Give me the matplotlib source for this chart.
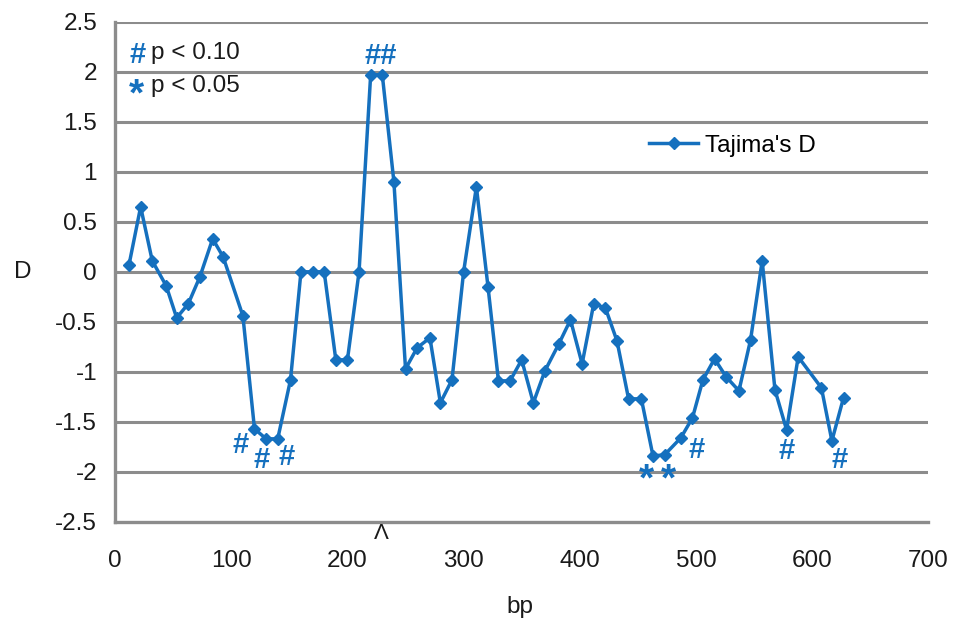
import numpy as np
import matplotlib
matplotlib.use('Agg')
from matplotlib import pyplot as plt

plt.rcParams['font.family'] = ['Liberation Sans', 'DejaVu Sans']

# sliding window centres (bp) and Tajima's D per window
bp = [12, 22, 32, 44, 53, 63, 73, 84, 93, 110, 120, 130, 140, 151, 160, 170, 180,
      190, 200, 210, 220, 230, 240, 250, 260, 271, 280, 290, 300, 311, 321, 330,
      340, 350, 360, 370, 382, 392, 402, 412, 422, 432, 442, 453, 463, 473, 487,
      497, 506, 516, 526, 537, 547, 557, 568, 578, 588, 608, 617, 627]
tajima_d = [0.07, 0.65, 0.11, -0.14, -0.46, -0.32, -0.05, 0.33, 0.15, -0.44,
            -1.57, -1.67, -1.67, -1.08, 0.0, 0.0, 0.0, -0.88, -0.88, 0.0,
            1.97, 1.97, 0.90, -0.97, -0.76, -0.66, -1.31, -1.08, 0.0, 0.85,
            -0.15, -1.09, -1.09, -0.88, -1.31, -0.99, -0.72, -0.48, -0.92, -0.32,
            -0.36, -0.69, -1.27, -1.27, -1.84, -1.83, -1.66, -1.46, -1.08, -0.87,
            -1.05, -1.19, -0.68, 0.11, -1.18, -1.58, -0.85, -1.16, -1.69, -1.26]

# significance marks: (symbol, bp, D at the centre of the symbol)
sig_marks = [('#', 108, -1.71), ('#', 126, -1.86), ('#', 148, -1.83),
             ('##', 229, 2.18),
             ('*', 457, -2.0), ('*', 476, -2.0),
             ('#', 501, -1.76), ('#', 578, -1.77), ('#', 624, -1.86)]

blue = '#1570BE'
grid_gray = '#8c8c8c'
text_col = '#1a1a1a'
fs = 17.5
hash_fs = 21
star_fs = 28


def sig_text(ax, sym, x, y):
    # place glyph by its visual centre: '#' sits on the baseline, '*' floats near cap height
    size = star_fs if sym == '*' else hash_fs
    lift = 0.47 if sym == '*' else 0.36
    ax.annotate(sym, xy=(x, y), xytext=(0, -lift * size), textcoords='offset points',
                color=blue, fontsize=size, fontweight='bold', ha='center', va='baseline',
                zorder=4)


fig = plt.figure(figsize=(9.59, 6.22), dpi=100)
ax = fig.add_axes([0.12, 0.161, 0.848, 0.804])

ax.plot(bp, tajima_d, color=blue, lw=2.5, marker='D', ms=6.5, mec=blue, mfc=blue,
        label="Tajima's D", zorder=3)

ax.set_xlim(0, 700)
ax.set_ylim(-2.5, 2.5)
ax.set_xticks(np.arange(0, 701, 100))
ax.set_yticks(np.arange(-2.5, 2.51, 0.5))
ax.set_yticklabels(['-2.5', '-2', '-1.5', '-1', '-0.5', '0', '0.5', '1', '1.5', '2', '2.5'])
ax.tick_params(length=0, labelsize=fs, colors=text_col)
ax.tick_params(axis='y', pad=13)
ax.tick_params(axis='x', pad=20)

for y in np.arange(-2.0, 2.51, 0.5):
    ax.axhline(y, color=grid_gray, lw=2.2, zorder=1)
for s in ['top', 'right']:
    ax.spines[s].set_visible(False)
for s in ['left', 'bottom']:
    ax.spines[s].set_color(grid_gray)
    ax.spines[s].set_linewidth(2.4)

ax.set_ylabel('D', rotation=0, fontsize=fs, va='center', color=text_col)
ax.yaxis.set_label_coords(-0.114, 0.5)
ax.set_xlabel('bp', fontsize=fs, color=text_col, va='center')
ax.xaxis.set_label_coords(0.498, -0.17)

for sym, x, y in sig_marks:
    sig_text(ax, sym, x, y)

# key for the significance symbols
sig_text(ax, '#', 19, 2.19)
ax.text(31, 2.19, 'p < 0.10', color=text_col, fontsize=fs, ha='left', va='center')
sig_text(ax, '*', 18, 1.85)
ax.text(31, 1.86, 'p < 0.05', color=text_col, fontsize=fs, ha='left', va='center')

# marker under the axis at the peak
ax.annotate('Λ', xy=(229, 0), xycoords=('data', 'axes fraction'), xytext=(0, -12),
            textcoords='offset points', ha='center', va='baseline', fontsize=16,
            color=text_col, annotation_clip=False)

ax.legend(loc='center left', bbox_to_anchor=(0.657, 0.752), frameon=False, fontsize=fs,
          handlelength=2.0, handletextpad=0.3, borderpad=0, borderaxespad=0)

fig.savefig('out.png', dpi=100)
